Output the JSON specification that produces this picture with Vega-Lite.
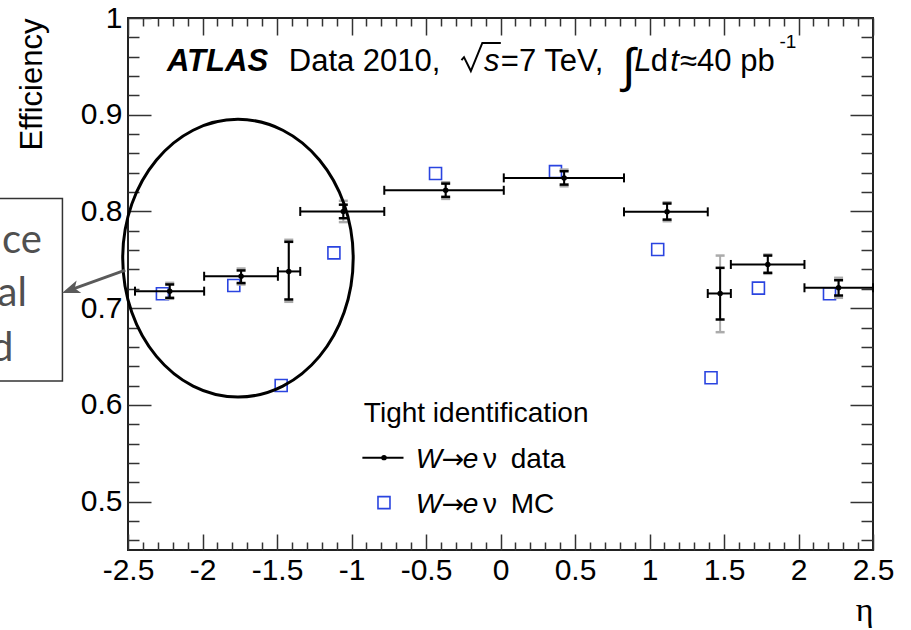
{
  "$schema": "https://vega.github.io/schema/vega-lite/v6.json",
  "width": 745,
  "height": 532,
  "autosize": {"type": "none"},
  "padding": {"left": 128, "top": 18, "right": 38, "bottom": 80},
  "background": "white",
  "config": {
    "view": {"stroke": "#222", "strokeWidth": 2},
    "axis": {
      "domain": false,
      "grid": false,
      "ticks": true,
      "tickColor": "#333",
      "tickWidth": 1.5,
      "tickOpacity": 1,
      "zindex": 1,
      "labelFont": "Liberation Sans",
      "labelFontSize": 30,
      "labelColor": "#000",
      "labelFlush": false,
      "labelOverlap": false,
      "labelBound": false
    },
    "text": {"font": "Liberation Sans", "color": "#000"}
  },
  "datasets": {
    "data": [
      {"x": -2.22, "xlo": -2.453, "xhi": -1.989, "eff": 0.7176, "slo": 0.7107, "shi": 0.7245, "tlo": 0.7097, "thi": 0.7262},
      {"x": -1.741, "xlo": -1.989, "xhi": -1.494, "eff": 0.733, "slo": 0.726, "shi": 0.739, "tlo": 0.7245, "thi": 0.741},
      {"x": -1.421, "xlo": -1.494, "xhi": -1.344, "eff": 0.738, "slo": 0.709, "shi": 0.7686, "tlo": 0.7066, "thi": 0.7707},
      {"x": -1.055, "xlo": -1.344, "xhi": -0.78, "eff": 0.8, "slo": 0.793, "shi": 0.807, "tlo": 0.789, "thi": 0.811},
      {"x": -0.368, "xlo": -0.78, "xhi": 0.022, "eff": 0.8219, "slo": 0.8151, "shi": 0.8288, "tlo": 0.813, "thi": 0.8302},
      {"x": 0.427, "xlo": 0.022, "xhi": 0.829, "eff": 0.8347, "slo": 0.8278, "shi": 0.8416, "tlo": 0.826, "thi": 0.8433},
      {"x": 1.118, "xlo": 0.829, "xhi": 1.391, "eff": 0.7996, "slo": 0.7916, "shi": 0.8082, "tlo": 0.7899, "thi": 0.8095},
      {"x": 1.474, "xlo": 1.391, "xhi": 1.546, "eff": 0.7152, "slo": 0.6883, "shi": 0.7417, "tlo": 0.6752, "thi": 0.7544},
      {"x": 1.794, "xlo": 1.546, "xhi": 2.04, "eff": 0.7452, "slo": 0.7366, "shi": 0.7544, "tlo": 0.7355, "thi": 0.7555},
      {"x": 2.269, "xlo": 2.04, "xhi": 2.5, "eff": 0.7211, "slo": 0.7131, "shi": 0.7289, "tlo": 0.7107, "thi": 0.7314}
    ],
    "mc": [
      {"x": -2.269, "eff": 0.7149},
      {"x": -1.79, "eff": 0.7234},
      {"x": -1.472, "eff": 0.62},
      {"x": -1.118, "eff": 0.7572},
      {"x": -0.436, "eff": 0.8392},
      {"x": 0.369, "eff": 0.8412},
      {"x": 1.055, "eff": 0.7606},
      {"x": 1.413, "eff": 0.6281},
      {"x": 1.731, "eff": 0.7207},
      {"x": 2.208, "eff": 0.7149}
    ],
    "one": [{}]
  },
  "layer": [
    {
      "data": {"name": "mc"},
      "mark": {"type": "point", "shape": "square", "size": 144, "filled": false, "stroke": "#2a44e0", "strokeWidth": 1.6, "opacity": 1},
      "encoding": {
        "x": {"field": "x", "type": "quantitative", "axis": null},
        "y": {"field": "eff", "type": "quantitative", "axis": null}
      }
    },
    {
      "data": {"name": "data"},
      "mark": {"type": "rule", "color": "#ababab", "strokeWidth": 2},
      "encoding": {
        "x": {
          "field": "x", "type": "quantitative",
          "scale": {"domain": [-2.5, 2.5], "nice": false, "zero": false},
          "axis": {
            "orient": "bottom",
            "values": [-2.5, -2, -1.5, -1, -0.5, 0, 0.5, 1, 1.5, 2, 2.5],
            "tickSize": -16,
            "labelPadding": 21,
            "labelExpr": "'' + datum.value",
            "title": "η",
            "titleFont": "Liberation Serif",
            "titleFontSize": 34,
            "titleFontWeight": "normal",
            "titleColor": "#000",
            "titleAlign": "right",
            "titleAnchor": "end",
            "titleBaseline": "alphabetic",
            "titleX": 745,
            "titleY": 70
          }
        },
        "y": {
          "field": "tlo", "type": "quantitative",
          "scale": {"domain": [0.45, 1], "nice": false, "zero": false},
          "axis": {
            "orient": "left",
            "values": [0.5, 0.6, 0.7, 0.8, 0.9, 1],
            "tickSize": -23,
            "labelPadding": 29,
            "labelExpr": "'' + datum.value",
            "title": "Efficiency",
            "titleFont": "Liberation Sans",
            "titleFontSize": 31,
            "titleFontWeight": "normal",
            "titleColor": "#000",
            "titleAngle": 270,
            "titleAlign": "right",
            "titleBaseline": "alphabetic",
            "titleX": -87,
            "titleY": 0
          }
        },
        "y2": {"field": "thi"}
      }
    },
    {
      "data": {"name": "data"},
      "mark": {"type": "tick", "orient": "horizontal", "size": 9, "thickness": 2.5, "color": "#ababab", "opacity": 1},
      "encoding": {
        "x": {"field": "x", "type": "quantitative", "axis": null},
        "y": {"field": "tlo", "type": "quantitative", "axis": null}
      }
    },
    {
      "data": {"name": "data"},
      "mark": {"type": "tick", "orient": "horizontal", "size": 9, "thickness": 2.5, "color": "#ababab", "opacity": 1},
      "encoding": {
        "x": {"field": "x", "type": "quantitative", "axis": null},
        "y": {"field": "thi", "type": "quantitative", "axis": null}
      }
    },
    {
      "data": {"name": "data"},
      "mark": {"type": "rule", "color": "#000", "strokeWidth": 2},
      "encoding": {
        "x": {
          "field": "x", "type": "quantitative",
          "scale": {"domain": [-2.5, 2.5], "nice": false, "zero": false},
          "axis": {
            "orient": "bottom",
            "values": [-2.4, -2.3, -2.2, -2.1, -1.9, -1.8, -1.7, -1.6, -1.4, -1.3, -1.2, -1.1, -0.9, -0.8, -0.7, -0.6, -0.4, -0.3, -0.2, -0.1, 0.1, 0.2, 0.3, 0.4, 0.6, 0.7, 0.8, 0.9, 1.1, 1.2, 1.3, 1.4, 1.6, 1.7, 1.8, 1.9, 2.1, 2.2, 2.3, 2.4],
            "tickSize": -8,
            "labels": false,
            "title": null
          }
        },
        "y": {
          "field": "slo", "type": "quantitative",
          "scale": {"domain": [0.45, 1], "nice": false, "zero": false},
          "axis": {
            "orient": "left",
            "values": [0.46, 0.48, 0.52, 0.54, 0.56, 0.58, 0.62, 0.64, 0.66, 0.68, 0.72, 0.74, 0.76, 0.78, 0.82, 0.84, 0.86, 0.88, 0.92, 0.94, 0.96, 0.98],
            "tickSize": -11,
            "labels": false,
            "title": null
          }
        },
        "y2": {"field": "shi"}
      }
    },
    {
      "data": {"name": "data"},
      "mark": {"type": "tick", "orient": "horizontal", "size": 9, "thickness": 2.5, "color": "#000", "opacity": 1},
      "encoding": {
        "x": {"field": "x", "type": "quantitative", "axis": null},
        "y": {"field": "slo", "type": "quantitative", "axis": null}
      }
    },
    {
      "data": {"name": "data"},
      "mark": {"type": "tick", "orient": "horizontal", "size": 9, "thickness": 2.5, "color": "#000", "opacity": 1},
      "encoding": {
        "x": {"field": "x", "type": "quantitative", "axis": null},
        "y": {"field": "shi", "type": "quantitative", "axis": null}
      }
    },
    {
      "data": {"name": "data"},
      "mark": {"type": "rule", "color": "#000", "strokeWidth": 2},
      "encoding": {
        "x": {
          "field": "xlo", "type": "quantitative",
          "scale": {"domain": [-2.5, 2.5], "nice": false, "zero": false},
          "axis": {
            "orient": "top",
            "values": [-2.5, -2, -1.5, -1, -0.5, 0, 0.5, 1, 1.5, 2, 2.5],
            "tickSize": -17,
            "labels": false,
            "title": null
          }
        },
        "x2": {"field": "xhi"},
        "y": {
          "field": "eff", "type": "quantitative",
          "scale": {"domain": [0.45, 1], "nice": false, "zero": false},
          "axis": {
            "orient": "right",
            "values": [0.5, 0.6, 0.7, 0.8, 0.9, 1],
            "tickSize": -23,
            "labels": false,
            "title": null
          }
        }
      }
    },
    {
      "data": {"name": "data"},
      "mark": {"type": "tick", "orient": "vertical", "size": 9, "thickness": 2, "color": "#000", "opacity": 1},
      "encoding": {
        "x": {"field": "xlo", "type": "quantitative", "axis": null},
        "y": {"field": "eff", "type": "quantitative", "axis": null}
      }
    },
    {
      "data": {"name": "data"},
      "mark": {"type": "tick", "orient": "vertical", "size": 9, "thickness": 2, "color": "#000", "opacity": 1},
      "encoding": {
        "x": {"field": "xhi", "type": "quantitative", "axis": null},
        "y": {"field": "eff", "type": "quantitative", "axis": null}
      }
    },
    {
      "data": {"name": "data"},
      "mark": {"type": "point", "shape": "circle", "size": 30, "filled": true, "color": "#000", "opacity": 1},
      "encoding": {
        "x": {
          "field": "x", "type": "quantitative",
          "scale": {"domain": [-2.5, 2.5], "nice": false, "zero": false},
          "axis": {
            "orient": "top",
            "values": [-2.4, -2.3, -2.2, -2.1, -1.9, -1.8, -1.7, -1.6, -1.4, -1.3, -1.2, -1.1, -0.9, -0.8, -0.7, -0.6, -0.4, -0.3, -0.2, -0.1, 0.1, 0.2, 0.3, 0.4, 0.6, 0.7, 0.8, 0.9, 1.1, 1.2, 1.3, 1.4, 1.6, 1.7, 1.8, 1.9, 2.1, 2.2, 2.3, 2.4],
            "tickSize": -8,
            "labels": false,
            "title": null
          }
        },
        "y": {
          "field": "eff", "type": "quantitative",
          "scale": {"domain": [0.45, 1], "nice": false, "zero": false},
          "axis": {
            "orient": "right",
            "values": [0.46, 0.48, 0.52, 0.54, 0.56, 0.58, 0.62, 0.64, 0.66, 0.68, 0.72, 0.74, 0.76, 0.78, 0.82, 0.84, 0.86, 0.88, 0.92, 0.94, 0.96, 0.98],
            "tickSize": -12,
            "labels": false,
            "title": null
          }
        }
      }
    },
    {
      "data": {"name": "one"},
      "mark": {"type": "rule", "color": "#000", "strokeWidth": 2},
      "encoding": {
        "x": {"datum": -0.927, "type": "quantitative", "axis": null},
        "x2": {"datum": -0.651},
        "y": {"datum": 0.5455, "type": "quantitative", "axis": null}
      }
    },
    {
      "data": {"name": "one"},
      "mark": {"type": "point", "shape": "circle", "size": 30, "filled": true, "color": "#000", "opacity": 1},
      "encoding": {
        "x": {"datum": -0.782, "type": "quantitative", "axis": null},
        "y": {"datum": 0.5455, "type": "quantitative", "axis": null}
      }
    },
    {
      "data": {"name": "one"},
      "mark": {"type": "point", "shape": "square", "size": 144, "filled": false, "stroke": "#2a44e0", "strokeWidth": 1.6, "opacity": 1},
      "encoding": {
        "x": {"datum": -0.782, "type": "quantitative", "axis": null},
        "y": {"datum": 0.499, "type": "quantitative", "axis": null}
      }
    },
    {
      "data": {"values": [
        {"x": -0.917, "y": 0.5822, "label": "Tight identification"},
        {"x": -0.118, "y": 0.5351, "label": "ν"},
        {"x": 0.069, "y": 0.5351, "label": "data"},
        {"x": -0.118, "y": 0.4886, "label": "ν"},
        {"x": 0.069, "y": 0.4886, "label": "MC"}
      ]},
      "mark": {"type": "text", "fontSize": 28, "align": "left", "baseline": "alphabetic"},
      "encoding": {
        "x": {"field": "x", "type": "quantitative", "axis": null},
        "y": {"field": "y", "type": "quantitative", "axis": null},
        "text": {"field": "label"}
      }
    },
    {
      "data": {"values": [
        {"x": -0.395, "y": 0.5351, "label": "→"},
        {"x": -0.395, "y": 0.4886, "label": "→"}
      ]},
      "mark": {"type": "text", "font": "DejaVu Sans", "fontSize": 27, "align": "left", "baseline": "alphabetic"},
      "encoding": {
        "x": {"field": "x", "type": "quantitative", "axis": null},
        "y": {"field": "y", "type": "quantitative", "axis": null},
        "text": {"field": "label"}
      }
    },
    {
      "data": {"values": [
        {"x": -0.569, "y": 0.5351, "label": "W"},
        {"x": -0.253, "y": 0.5351, "label": "e"},
        {"x": -0.569, "y": 0.4886, "label": "W"},
        {"x": -0.253, "y": 0.4886, "label": "e"}
      ]},
      "mark": {"type": "text", "fontSize": 28, "fontStyle": "italic", "align": "left", "baseline": "alphabetic"},
      "encoding": {
        "x": {"field": "x", "type": "quantitative", "axis": null},
        "y": {"field": "y", "type": "quantitative", "axis": null},
        "text": {"field": "label"}
      }
    },
    {
      "data": {"values": [
        {"x": -2.238, "y": 0.9448, "label": "ATLAS"}
      ]},
      "mark": {"type": "text", "fontSize": 31, "fontStyle": "italic", "fontWeight": "bold", "align": "left", "baseline": "alphabetic"},
      "encoding": {
        "x": {"field": "x", "type": "quantitative", "axis": null},
        "y": {"field": "y", "type": "quantitative", "axis": null},
        "text": {"field": "label"}
      }
    },
    {
      "data": {"values": [
        {"x": -1.421, "y": 0.9448, "label": "Data 2010,"},
        {"x": 0.002, "y": 0.9448, "label": "=7 TeV,"},
        {"x": 1.008, "y": 0.9448, "label": "d"},
        {"x": 1.205, "y": 0.9448, "label": "≈40 pb"}
      ]},
      "mark": {"type": "text", "fontSize": 31, "align": "left", "baseline": "alphabetic"},
      "encoding": {
        "x": {"field": "x", "type": "quantitative", "axis": null},
        "y": {"field": "y", "type": "quantitative", "axis": null},
        "text": {"field": "label"}
      }
    },
    {
      "data": {"values": [
        {"x": -0.11, "y": 0.9448, "label": "s"},
        {"x": 0.898, "y": 0.9448, "label": "L"},
        {"x": 1.14, "y": 0.9448, "label": "t"}
      ]},
      "mark": {"type": "text", "fontSize": 31, "fontStyle": "italic", "align": "left", "baseline": "alphabetic"},
      "encoding": {
        "x": {"field": "x", "type": "quantitative", "axis": null},
        "y": {"field": "y", "type": "quantitative", "axis": null},
        "text": {"field": "label"}
      }
    },
    {
      "data": {"values": [
        {"x": 1.872, "y": 0.969, "label": "-1"}
      ]},
      "mark": {"type": "text", "fontSize": 19, "align": "left", "baseline": "alphabetic"},
      "encoding": {
        "x": {"field": "x", "type": "quantitative", "axis": null},
        "y": {"field": "y", "type": "quantitative", "axis": null},
        "text": {"field": "label"}
      }
    },
    {
      "data": {"values": [
        {"x": 0.815, "y": 0.9335, "label": "∫"}
      ]},
      "mark": {"type": "text", "fontSize": 48, "align": "left", "baseline": "alphabetic"},
      "encoding": {
        "x": {"field": "x", "type": "quantitative", "axis": null},
        "y": {"field": "y", "type": "quantitative", "axis": null},
        "text": {"field": "label"}
      }
    },
    {
      "data": {"values": [
        {"k": 0, "x": -0.262, "y": 0.9565},
        {"k": 1, "x": -0.245, "y": 0.9595},
        {"k": 2, "x": -0.199, "y": 0.9452},
        {"k": 3, "x": -0.122, "y": 0.9742},
        {"k": 4, "x": 0.002, "y": 0.9742}
      ]},
      "mark": {"type": "line", "color": "#000", "strokeWidth": 2},
      "encoding": {
        "x": {"field": "x", "type": "quantitative", "axis": null},
        "y": {"field": "y", "type": "quantitative", "axis": null},
        "order": {"field": "k"}
      }
    },
    {
      "data": {"name": "one"},
      "mark": {"type": "point", "shape": "M -0.83,0 A 0.83,1 0 1,1 0.83,0 A 0.83,1 0 1,1 -0.83,0 Z", "size": 77117, "filled": false, "stroke": "#000", "strokeWidth": 3, "opacity": 1},
      "encoding": {
        "x": {"datum": -1.762, "type": "quantitative", "axis": null},
        "y": {"datum": 0.7517, "type": "quantitative", "axis": null}
      }
    },
    {
      "data": {"name": "one"},
      "mark": {"type": "rect", "fillOpacity": 0, "stroke": "#333", "strokeWidth": 1.5},
      "encoding": {
        "x": {"datum": -3.7, "type": "quantitative", "axis": null},
        "x2": {"datum": -2.94},
        "y": {"datum": 0.6246, "type": "quantitative", "axis": null},
        "y2": {"datum": 0.8133}
      }
    },
    {
      "data": {"values": [
        {"x": -3.078, "y": 0.7572, "label": "ce"},
        {"x": -3.179, "y": 0.7021, "label": "al"},
        {"x": -3.269, "y": 0.6452, "label": "d"}
      ]},
      "mark": {"type": "text", "font": "Lato", "fontSize": 40, "color": "#505050", "align": "right", "baseline": "alphabetic"},
      "encoding": {
        "x": {"field": "x", "type": "quantitative", "axis": null},
        "y": {"field": "y", "type": "quantitative", "axis": null},
        "text": {"field": "label"}
      }
    },
    {
      "data": {"name": "one"},
      "mark": {"type": "rule", "color": "#5a5a5a", "strokeWidth": 3},
      "encoding": {
        "x": {"datum": -2.518, "type": "quantitative", "axis": null},
        "x2": {"datum": -2.886},
        "y": {"datum": 0.7393, "type": "quantitative", "axis": null},
        "y2": {"datum": 0.719}
      }
    },
    {
      "data": {"name": "one"},
      "mark": {"type": "point", "shape": "M -1,0 L 1,-0.75 L 0.5,0 L 1,0.75 Z", "size": 324, "filled": true, "color": "#5a5a5a", "angle": 340, "opacity": 1},
      "encoding": {
        "x": {"datum": -2.886, "type": "quantitative", "axis": null},
        "y": {"datum": 0.719, "type": "quantitative", "axis": null}
      }
    }
  ],
  "resolve": {"axis": {"x": "independent", "y": "independent"}}
}
